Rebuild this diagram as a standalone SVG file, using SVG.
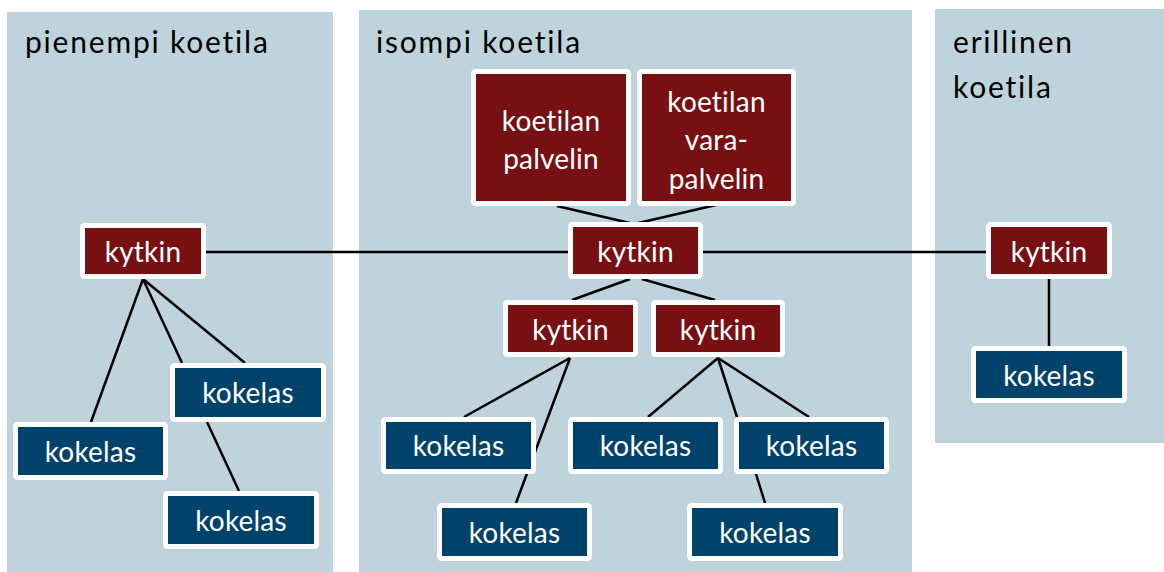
<svg xmlns="http://www.w3.org/2000/svg" width="1164" height="572" viewBox="0 0 1164 572">
<style>
text{font-variant-ligatures:none;font-feature-settings:"liga" 0,"clig" 0}
.panel{fill:#bfd3dc}
.title{font-family:Lato,"Open Sans",sans-serif;font-size:30px;fill:#000;letter-spacing:1.8px}
.red{fill:#780f12;stroke:#fff;stroke-width:5}
.blue{fill:#00436a;stroke:#fff;stroke-width:5}
.lbl{font-family:Lato,"Open Sans",sans-serif;font-size:28px;fill:#fff;text-anchor:middle;letter-spacing:0.2px}
.conn line{stroke:#000;stroke-width:2.5}
</style>
<rect width="1164" height="572" fill="#fff"/>
<g id="panel-pienempi">
<rect class="panel" x="7" y="12" width="326" height="565"/>
<text class="title" x="25" y="53">pienempi koetila</text>
</g>
<g id="panel-isompi">
<rect class="panel" x="359" y="10" width="553" height="567"/>
<text class="title" x="376" y="53">isompi koetila</text>
</g>
<g id="panel-erillinen">
<rect class="panel" x="935" y="9" width="234" height="434"/>
<text class="title" x="953" y="53">erillinen</text>
<text class="title" x="953" y="98">koetila</text>
</g>
<g id="connectors" class="conn">
<line x1="206" y1="252" x2="568" y2="252"/>
<line x1="703" y1="252" x2="986" y2="252"/>
<line x1="557" y1="206" x2="634" y2="224"/>
<line x1="716" y1="205" x2="634" y2="224"/>
<line x1="630" y1="279" x2="572" y2="300"/>
<line x1="642" y1="279" x2="715" y2="300"/>
<line x1="143" y1="279" x2="91" y2="422"/>
<line x1="143" y1="279" x2="182" y2="363"/>
<line x1="143" y1="279" x2="245" y2="363"/>
<line x1="207" y1="422" x2="239" y2="491"/>
<line x1="570" y1="358" x2="464" y2="417"/>
<line x1="570" y1="358" x2="516" y2="503"/>
<line x1="718" y1="358" x2="648" y2="417"/>
<line x1="718" y1="358" x2="737" y2="417"/>
<line x1="718" y1="358" x2="809" y2="417"/>
<line x1="756" y1="474" x2="765" y2="503"/>
<line x1="1049" y1="279" x2="1049" y2="346"/>
</g>
<g id="kytkin-left"><rect class="red" x="82.5" y="225.5" width="121" height="51" rx="2"/><text class="lbl" x="143" y="262">kytkin</text></g>
<g id="kytkin-center"><rect class="red" x="570.5" y="224.5" width="130" height="52" rx="2"/><text class="lbl" x="635.5" y="262">kytkin</text></g>
<g id="kytkin-lowleft"><rect class="red" x="505.5" y="302.5" width="130" height="52" rx="2"/><text class="lbl" x="570.5" y="340">kytkin</text></g>
<g id="kytkin-lowright"><rect class="red" x="653.5" y="302.5" width="129" height="52" rx="2"/><text class="lbl" x="718" y="340">kytkin</text></g>
<g id="kytkin-right"><rect class="red" x="988.5" y="224.5" width="121" height="52" rx="2"/><text class="lbl" x="1049" y="262">kytkin</text></g>
<g id="palvelin"><rect class="red" x="473.5" y="71.5" width="155" height="132" rx="2"/><text class="lbl" x="551" y="131">koetilan</text><text class="lbl" x="551" y="169">palvelin</text></g>
<g id="varapalvelin"><rect class="red" x="639.5" y="71.5" width="154" height="132" rx="2"/><text class="lbl" x="716.5" y="112">koetilan</text><text class="lbl" x="716.5" y="150">vara-</text><text class="lbl" x="716.5" y="189">palvelin</text></g>
<g id="kokelas-a"><rect class="blue" x="172.5" y="365.5" width="151" height="54" rx="2"/><text class="lbl" x="248" y="403">kokelas</text></g>
<g id="kokelas-b"><rect class="blue" x="15.5" y="424.5" width="150" height="53" rx="2"/><text class="lbl" x="90.5" y="462">kokelas</text></g>
<g id="kokelas-c"><rect class="blue" x="165.5" y="493.5" width="151" height="53" rx="2"/><text class="lbl" x="241" y="531">kokelas</text></g>
<g id="kokelas-d"><rect class="blue" x="383.5" y="419.5" width="150" height="52" rx="2"/><text class="lbl" x="458.5" y="456">kokelas</text></g>
<g id="kokelas-e"><rect class="blue" x="439.5" y="505.5" width="150" height="53" rx="2"/><text class="lbl" x="514.5" y="543">kokelas</text></g>
<g id="kokelas-f"><rect class="blue" x="570.5" y="419.5" width="150" height="52" rx="2"/><text class="lbl" x="645.5" y="456">kokelas</text></g>
<g id="kokelas-g"><rect class="blue" x="736.5" y="419.5" width="150" height="52" rx="2"/><text class="lbl" x="811.5" y="456">kokelas</text></g>
<g id="kokelas-h"><rect class="blue" x="689.5" y="505.5" width="151" height="53" rx="2"/><text class="lbl" x="765" y="543">kokelas</text></g>
<g id="kokelas-r"><rect class="blue" x="973.5" y="348.5" width="151" height="52" rx="2"/><text class="lbl" x="1049" y="386">kokelas</text></g>
</svg>
